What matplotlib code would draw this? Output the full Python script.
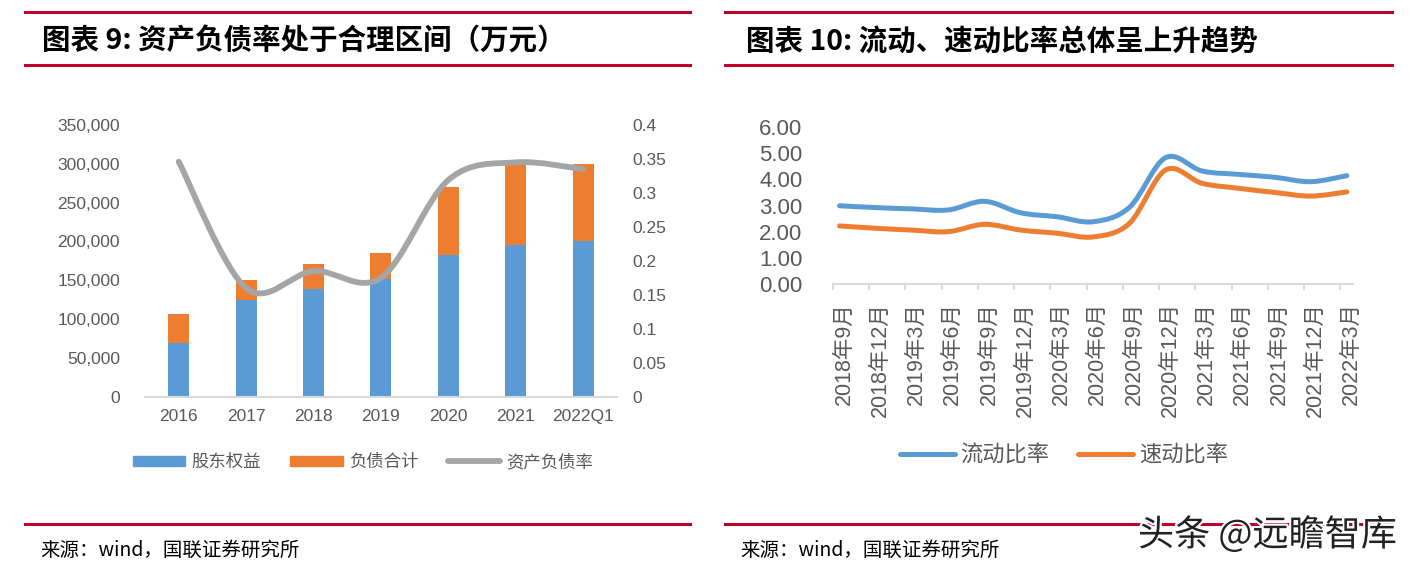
import matplotlib
matplotlib.use('Agg')
import matplotlib.pyplot as plt
from matplotlib.path import Path
from matplotlib.patches import PathPatch, Patch
from matplotlib.lines import Line2D
from matplotlib.ticker import FuncFormatter
import matplotlib.patheffects as pe
import numpy as np

# ---------------- data ----------------
years = ['2016', '2017', '2018', '2019', '2020', '2021', '2022Q1']
equity = [69500, 125000, 138500, 152000, 183000, 195500, 200000]      # 股东权益
liability = [37000, 25500, 32000, 33500, 87000, 104500, 100000]      # 负债合计
debt_ratio = [0.346, 0.160, 0.185, 0.175, 0.319, 0.345, 0.335]      # 资产负债率

periods = ['2018年9月', '2018年12月', '2019年3月', '2019年6月', '2019年9月',
           '2019年12月', '2020年3月', '2020年6月', '2020年9月', '2020年12月',
           '2021年3月', '2021年6月', '2021年9月', '2021年12月', '2022年3月']
current_ratio = [2.99, 2.92, 2.87, 2.83, 3.16, 2.72, 2.57, 2.38, 2.93, 4.83,
                 4.32, 4.19, 4.08, 3.91, 4.14]
quick_ratio = [2.22, 2.13, 2.06, 2.00, 2.28, 2.06, 1.94, 1.80, 2.32, 4.36,
               3.85, 3.66, 3.50, 3.36, 3.52]

left_yticks = [0, 50000, 100000, 150000, 200000, 250000, 300000, 350000]
right_yticks = [0, 0.05, 0.1, 0.15, 0.2, 0.25, 0.3, 0.35, 0.4]
ratio_yticks = [0, 1, 2, 3, 4, 5, 6]

# ---------------- style ----------------
BLUE = '#5B9BD5'
ORANGE = '#ED7D31'
GRAY = '#A5A5A5'
RED = '#C00028'
AXIS = '#D9D9D9'
TXT = '#595959'
NUM = ['Liberation Sans', 'Noto Sans CJK SC', 'DejaVu Sans']
CJK = ['Noto Sans CJK SC', 'DejaVu Sans']
plt.rcParams['font.family'] = NUM

W, H = 1414, 570
fig = plt.figure(figsize=(W / 100, H / 100), dpi=100)


def fx(px):
    return px / W


def fy(py):
    return 1 - py / H


def smooth_path(xs, ys):
    pts = np.column_stack([xs, ys]).astype(float)
    n = len(pts)
    verts = [pts[0]]
    codes = [Path.MOVETO]
    for i in range(n - 1):
        p0 = pts[i - 1] if i > 0 else pts[i]
        p1 = pts[i]
        p2 = pts[i + 1]
        p3 = pts[i + 2] if i + 2 < n else pts[i + 1]
        c1 = p1 + (p2 - p0) / 6.0
        c2 = p2 - (p3 - p1) / 6.0
        verts += [c1, c2, p2]
        codes += [Path.CURVE4] * 3
    return Path(verts, codes)


def add_smooth(ax, xs, ys, color, lw):
    patch = PathPatch(smooth_path(xs, ys), fill=False, edgecolor=color,
                      linewidth=lw, capstyle='round', joinstyle='round')
    ax.add_patch(patch)


# ---------------- left chart ----------------
axL = fig.add_axes([fx(145), fy(396.7), fx(471.8), (396.7 - 125) / H])
x = np.arange(len(years))
axL.bar(x, equity, width=0.31, color=BLUE, zorder=2)
axL.bar(x, liability, bottom=equity, width=0.31, color=ORANGE, zorder=2)
axL.set_xlim(-0.5, len(years) - 0.5)
axL.set_ylim(0, 350000)
axL.set_yticks(left_yticks)
axL.yaxis.set_major_formatter(FuncFormatter(lambda v, p: f'{v:,.0f}'))
axL.set_xticks(x)
axL.set_xticklabels(years)
for s in ['top', 'right', 'left']:
    axL.spines[s].set_visible(False)
axL.spines['bottom'].set_color(AXIS)
axL.spines['bottom'].set_linewidth(1.5)
axL.tick_params(axis='y', length=0, pad=18, labelsize=12.5, labelcolor=TXT)
axL.tick_params(axis='x', length=0, pad=8.5, labelsize=12.5, labelcolor=TXT)

axR2 = axL.twinx()
axR2.set_ylim(0, 0.4)
axR2.set_yticks(right_yticks)
axR2.yaxis.set_major_formatter(FuncFormatter(lambda v, p: f'{v:g}'))
for s in axR2.spines.values():
    s.set_visible(False)
axR2.tick_params(axis='y', length=0, pad=11.5, labelsize=12.5, labelcolor=TXT)
add_smooth(axR2, x, debt_ratio, GRAY, 4.2)

legL = fig.legend(
    handles=[Patch(color=BLUE, label='股东权益'),
             Patch(color=ORANGE, label='负债合计'),
             Line2D([], [], color=GRAY, lw=4.2, solid_capstyle='round', label='资产负债率')],
    loc='center', bbox_to_anchor=(fx(363), fy(462)), ncol=3, frameon=False,
    prop={'family': CJK, 'size': 12.5}, labelcolor=TXT, handlelength=3.0,
    handleheight=0.5, handletextpad=0.35, columnspacing=1.7, borderpad=0,
    borderaxespad=0)

# ---------------- right chart ----------------
axC = fig.add_axes([fx(833), fy(284), fx(519.7), (284 - 127) / H])
xi = np.arange(len(periods))
add_smooth(axC, xi, quick_ratio, ORANGE, 3.6)
add_smooth(axC, xi, current_ratio, BLUE, 3.6)
axC.set_xlim(-0.18, len(periods) - 1 + 0.16)
axC.set_ylim(0, 6)
axC.set_yticks(ratio_yticks)
axC.yaxis.set_major_formatter(FuncFormatter(lambda v, p: f'{v:.2f}'))
axC.set_xticks(xi - 0.18)
axC.set_xticklabels([])
axC.set_xticks(xi + 0.12, labels=periods, minor=True)
for s in ['top', 'right', 'left']:
    axC.spines[s].set_visible(False)
axC.spines['bottom'].set_color(AXIS)
axC.spines['bottom'].set_linewidth(1.5)
axC.tick_params(axis='y', length=0, pad=22, labelsize=16, labelcolor=TXT)
axC.tick_params(axis='x', which='major', length=4.5, width=1.3, color=AXIS)
axC.tick_params(axis='x', which='minor', length=0, pad=13, labelsize=15.5,
                labelcolor=TXT, labelrotation=90)

legR = fig.legend(
    handles=[Line2D([], [], color=BLUE, lw=3.6, solid_capstyle='round', label='流动比率'),
             Line2D([], [], color=ORANGE, lw=3.6, solid_capstyle='round', label='速动比率')],
    loc='center', bbox_to_anchor=(fx(1064), fy(455)), ncol=2, frameon=False,
    prop={'family': CJK, 'size': 16}, labelcolor=TXT, handlelength=2.45,
    handletextpad=0.27, columnspacing=1.3, borderpad=0, borderaxespad=0)

# ---------------- frame: red rules, titles, sources ----------------
for (x0, x1) in [(25, 690), (725, 1392)]:
    for yy in [12, 65, 524]:
        fig.add_artist(Line2D([fx(x0), fx(x1)], [fy(yy), fy(yy)],
                              transform=fig.transFigure, color=RED, lw=2.2))

fig.text(fx(42), fy(41.7), '图表 9: 资产负债率处于合理区间（万元）', family=CJK,
         fontsize=20.5, fontweight='bold', fontstyle='italic', color='black',
         ha='left', va='center')
fig.text(fx(746), fy(41.7), '图表 10: 流动、速动比率总体呈上升趋势', family=CJK,
         fontsize=20.5, fontweight='bold', fontstyle='italic', color='black',
         ha='left', va='center')

fig.text(fx(40), fy(550), '来源：wind，国联证券研究所', family=CJK, fontsize=14,
         color='black', ha='left', va='center')
fig.text(fx(740), fy(550), '来源：wind，国联证券研究所', family=CJK, fontsize=14,
         color='black', ha='left', va='center')

fig.text(fx(1138), fy(535), '头条 @远瞻智库', family=CJK, fontsize=26,
         color='#222222', ha='left', va='center',
         path_effects=[pe.withStroke(linewidth=3, foreground='white')])

fig.savefig('out.png', dpi=100, facecolor='white')
